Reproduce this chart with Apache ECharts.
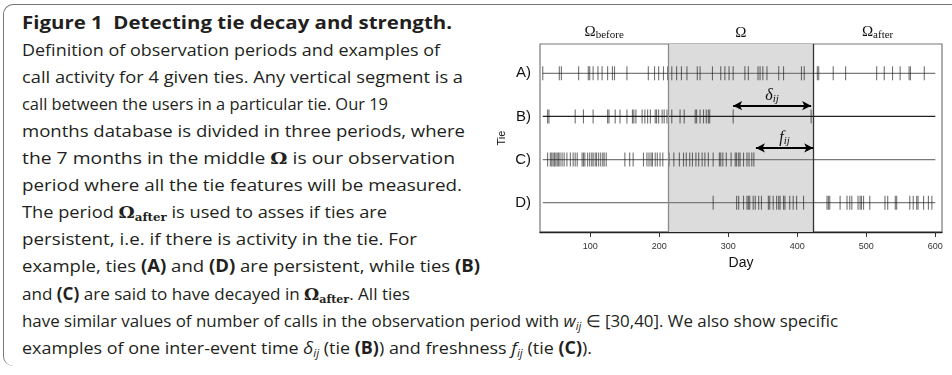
<!DOCTYPE html>
<html><head><meta charset="utf-8">
<script src="https://cdn.jsdelivr.net/npm/echarts@6/dist/echarts.min.js"></script>
<style>
html,body{margin:0;padding:0;width:952px;height:375px;overflow:hidden;background:#fff;}
#frame{position:absolute;left:3px;top:4px;width:960px;height:362px;border-left:1.6px solid #777;border-top:1.6px solid #777;border-top-left-radius:10px;border-bottom-left-radius:10px;box-sizing:border-box;}
.ln{position:absolute;left:22px;white-space:nowrap;font-family:"Open Sans",sans-serif;font-size:17px;line-height:27px;height:27px;color:#231f20;transform-origin:0 50%;}
.ln b{font-weight:700;}
.om{font-family:"DejaVu Serif",serif;font-weight:700;}
.om sub{font-size:11px;vertical-align:-3px;}
.ln i sub{font-size:11px;vertical-align:-3px;}
#chart{position:absolute;left:0;top:0;width:952px;height:375px;}
</style></head>
<body>
<div id="frame"></div>
<div id="caption"></div>
<div id="chart"></div>
<script>
// ---- data (days of calls per tie) ----
const tieA = [31, 55, 58, 83, 97, 99, 104, 111, 117, 125, 132, 135, 153, 184, 193, 199, 206, 212, 218, 225, 232, 240, 255, 259, 277, 289, 295, 301, 307, 324, 329, 343, 346, 350, 356, 373, 380, 406, 410, 429, 431, 452, 470, 515, 526, 538, 549, 562, 564, 584];
const tieB = [38, 40, 78, 90, 104, 125, 127, 136, 143, 153, 161, 163, 166, 175, 179, 183, 187, 194, 196, 199, 204, 207, 211, 218, 230, 236, 252, 254, 259, 264, 268, 271, 273, 307, 420];
const tieC = [38, 42, 44, 46, 48, 50, 52, 54, 56, 59, 62, 66, 71, 75, 78, 81, 88, 90, 92, 96, 99, 102, 104, 107, 109, 112, 115, 118, 120, 123, 150, 157, 162, 177, 182, 185, 188, 190, 194, 197, 201, 205, 214, 221, 229, 235, 239, 244, 248, 253, 257, 262, 266, 271, 278, 287, 289, 292, 297, 304, 310, 312, 315, 317, 322, 327, 330, 334, 337];
const tieD = [278, 312, 315, 322, 327, 329, 331, 336, 339, 344, 348, 358, 360, 365, 370, 373, 375, 380, 382, 389, 394, 399, 409, 443, 445, 447, 462, 472, 476, 479, 488, 491, 493, 496, 505, 527, 531, 542, 544, 563, 568, 573, 575, 583, 590, 595];
const tieRows = [4, 3, 2, 1];
const tieLabels = ['A)', 'B)', 'C)', 'D)'];
const lineExtent = [31, 600];
const xTicks = [100, 200, 300, 400, 500, 600];
const xRange = [27, 609.7];
const yRange = [0.32, 4.68];
const omegaPeriod = [213, 423];
const deltaArrow = [307, 420];
const freshArrow = [340, 423];
const periodNames = ['before', '', 'after'];

// ---- caption ----
const captionLines = [
  ['<b>Figure 1&nbsp; Detecting tie decay and strength.</b>', 452],
  ['Definition of observation periods and examples of', 440],
  ['call activity for 4 given ties. Any vertical segment is a', 463],
  ['call between the users in a particular tie. Our 19', 388],
  ['months database is divided in three periods, where', 465],
  ['the 7 months in the middle <span class="om">Ω</span> is our observation', 455],
  ['period where all the tie features will be measured.', 462],
  ['The period <span class="om">Ω<sub>after</sub></span> is used to asses if ties are', 387],
  ['persistent, i.e. if there is activity in the tie. For', 417],
  ['example, ties <b>(A)</b> and <b>(D)</b> are persistent, while ties <b>(B)</b>', 480],
  ['and <b>(C)</b> are said to have decayed in <span class="om">Ω<sub>after</sub></span>. All ties', 410],
  ['have similar values of number of calls in the observation period with <i>w<sub>ij</sub></i> ∈ [30,40]. We also show specific', 838],
  ['examples of one inter-event time <i>δ<sub>ij</sub></i> (tie <b>(B)</b>) and freshness <i>f<sub>ij</sub></i> (tie <b>(C)</b>).', 592]
];
const cap = document.getElementById('caption');
captionLines.forEach((l, i) => {
  const d = document.createElement('div');
  d.className = 'ln';
  d.innerHTML = l[0];
  d.style.top = (22 + i * 27.1 - 13.5) + 'px';
  cap.appendChild(d);
  const w = d.getBoundingClientRect().width;
  d.style.transform = 'scaleX(' + ((l[1] - 22) / w) + ')';
});

// ---- chart ----
const ties = [tieA, tieB, tieC, tieD];
const serif = 'Liberation Serif';
const richLbl = {
  o: {fontFamily: serif, fontSize: 15, color: '#111'},
  s: {fontFamily: serif, fontSize: 11, color: '#111', padding: [7, 0, 0, 0]},
  it: {fontFamily: serif, fontSize: 16, fontStyle: 'italic', color: '#111'},
  si: {fontFamily: serif, fontSize: 11, fontStyle: 'italic', color: '#111', padding: [7, 0, 0, 0]}
};

const series = [];
// period areas + boundaries
series.push({
  type: 'line', data: [], z: 0, silent: true,
  markArea: {
    silent: true,
    data: [
      [{xAxis: xRange[0], itemStyle: {color: 'rgba(0,0,0,0)'}, label: {formatter: '{o|Ω}{s|' + periodNames[0] + '}'}}, {xAxis: omegaPeriod[0]}],
      [{xAxis: omegaPeriod[0], itemStyle: {color: '#dcdcdc'}, label: {formatter: '{o|Ω}'}}, {xAxis: omegaPeriod[1]}],
      [{xAxis: omegaPeriod[1], itemStyle: {color: 'rgba(0,0,0,0)'}, label: {formatter: '{o|Ω}{s|' + periodNames[2] + '}'}}, {xAxis: xRange[1]}]
    ],
    label: {show: true, position: 'top', distance: 3, rich: richLbl}
  },
  markLine: {
    silent: true, symbol: 'none', label: {show: false},
    data: [
      {xAxis: omegaPeriod[0], lineStyle: {color: '#8a8a8a', width: 1.3, type: 'solid'}},
      {xAxis: omegaPeriod[1], lineStyle: {color: '#333', width: 1.3, type: 'solid'}}
    ]
  }
});
// baselines
const baseColors = ['#7a7a7a', '#222', '#7a7a7a', '#7a7a7a'];
tieRows.forEach((r, i) => {
  series.push({
    type: 'line', z: 2, silent: true, symbol: 'none',
    data: [[lineExtent[0], r], [lineExtent[1], r]],
    lineStyle: {color: baseColors[i], width: 1.3}
  });
});
// call ticks
ties.forEach((t, i) => {
  series.push({
    type: 'scatter', z: 3, silent: true,
    symbol: 'rect', symbolSize: [1.1, 14],
    itemStyle: {color: 'rgba(20,20,20,0.75)'},
    data: t.map(d => [d, tieRows[i]])
  });
});
// arrows
series.push({
  type: 'line', data: [], z: 4, silent: true,
  markLine: {
    silent: true, symbol: ['arrow', 'arrow'], symbolSize: [7, 9],
    lineStyle: {color: '#000', width: 2, type: 'solid'},
    label: {show: true, position: 'insideMiddleTop', distance: 1, rich: richLbl},
    data: [
      [{coord: [deltaArrow[0], 3.25], label: {formatter: '{it|δ}{si|ij}'}}, {coord: [deltaArrow[1], 3.25]}],
      [{coord: [freshArrow[0], 2.27], label: {formatter: '{it|f}{si|ij}'}}, {coord: [freshArrow[1], 2.27]}]
    ]
  }
});

const chart = echarts.init(document.getElementById('chart'), null, {renderer: 'canvas'});
chart.setOption({
  animation: false,
  backgroundColor: 'transparent',
  grid: {left: 540, right: 10, top: 44, bottom: 143, show: true, borderColor: '#777', borderWidth: 1.2, backgroundColor: 'transparent'},
  xAxis: {
    type: 'value', min: xRange[0], max: xRange[1],
    splitLine: {show: false},
    axisLine: {show: true, lineStyle: {color: '#222', width: 1.3}},
    axisTick: {show: true, customValues: xTicks, length: 5, lineStyle: {color: '#333'}},
    axisLabel: {customValues: xTicks, fontSize: 9, color: '#333', margin: 10, fontFamily: 'Liberation Sans'},
    name: 'Day', nameLocation: 'middle', nameGap: 21,
    nameTextStyle: {fontSize: 14, color: '#111', fontFamily: 'Liberation Sans'}
  },
  yAxis: {
    type: 'value', min: yRange[0], max: yRange[1],
    splitLine: {show: false}, axisLine: {show: false}, axisTick: {show: false},
    axisLabel: {customValues: tieRows, formatter: v => tieLabels[tieRows.indexOf(v)], fontSize: 15, color: '#111', margin: 9, fontFamily: 'Liberation Sans'},
    name: 'Tie', nameLocation: 'middle', nameGap: 33, nameRotate: 90,
    nameTextStyle: {fontSize: 11, color: '#111', fontFamily: 'Liberation Sans'}
  },
  series: series
});
</script>
</body></html>
